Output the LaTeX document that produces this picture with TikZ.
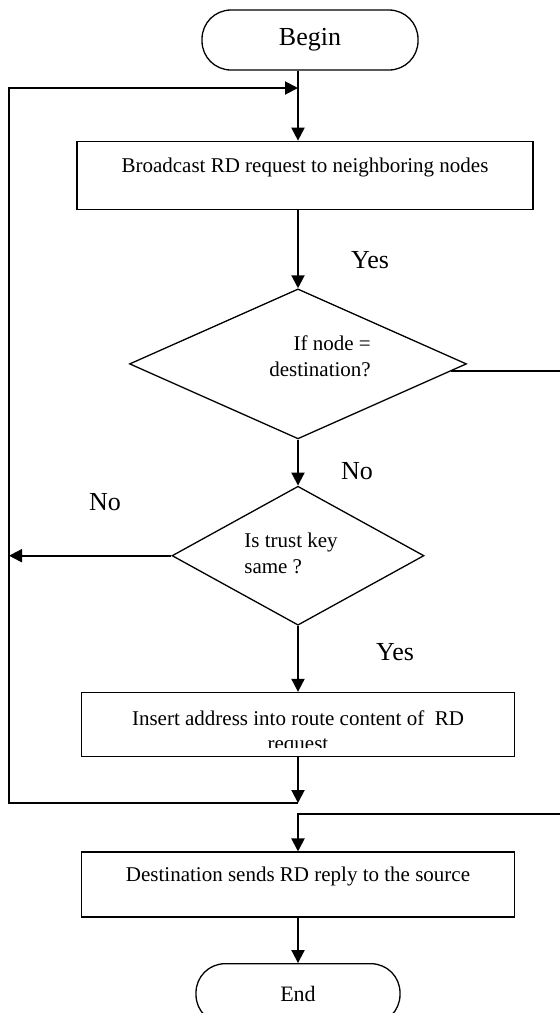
\documentclass[tikz,border=0pt]{standalone}
\usepackage{fontspec}
\setmainfont{Liberation Serif}
\usepackage{tikz}
\usetikzlibrary{arrows.meta,shapes,positioning}
\newcommand{\bigtxt}{\fontsize{26}{30}\selectfont}
\newcommand{\boxtxt}{\fontsize{21}{26}\selectfont}
\tikzstyle{terminal} = [rectangle, rounded corners=29pt, minimum width=216pt, minimum height=60pt, draw, line width=1.3pt, font=\bigtxt]
\tikzstyle{process} = [rectangle, minimum width=433pt, minimum height=65pt, draw, line width=1.6pt, font=\boxtxt, text height=14pt, text depth=20pt]
\tikzstyle{decision} = [diamond, draw, line width=1.3pt, inner sep=0pt]
\tikzstyle{dtext} = [font=\boxtxt, inner sep=0pt]
\tikzstyle{lbl} = [font=\bigtxt, inner sep=0pt]
\tikzstyle{arrow} = [line width=2pt, ->, >={Triangle[length=13pt,width=13pt]}]

\begin{document}
\begin{tikzpicture}[x=1pt, y=-1pt]
\useasboundingbox (0,0) rectangle (560,1013);
% Main flow
\node[terminal] (begin) at (310,40) {Begin};
\node[process, below=70pt of begin, xshift=-5pt, minimum width=456pt, minimum height=68pt] (bcast) {Broadcast RD request to neighboring nodes};
\node[decision, below=78pt of bcast, xshift=-7pt, minimum width=337pt, minimum height=150pt] (dec1) {};
\node[dtext, align=right] (dec1Text) at ([shift={(22pt,8pt)}]dec1.center) {If node =\\destination?};
\node[decision, below=46pt of dec1, minimum width=252pt, minimum height=139pt] (dec2) {};
\node[dtext, align=left] (dec2Text) at ([shift={(-7pt,2pt)}]dec2.center) {Is trust key\\same ?};
\node[process, below=66pt of dec2, minimum height=64pt, path picture={
    \node[font=\boxtxt, inner sep=0pt, anchor=base] (insertLineA) at ([yshift=-1pt]path picture bounding box.center) {Insert address into route content of\ \ RD};
    \node[font=\boxtxt, inner sep=0pt, anchor=base] (insertLineB) at ([yshift=-26pt]path picture bounding box.center) {request};
    \fill[white] ([yshift=9pt]path picture bounding box.south west) rectangle (path picture bounding box.south east);
  }] (insert) {};
\node[process, below=94pt of insert] (dest) {Destination sends RD reply to the source};
\node[terminal, below=45pt of dest, minimum width=204pt, font=\fontsize{22}{26}\selectfont] (end) {End};

% Labels
\node[lbl] (yes1) at (370,260) {Yes};
\node[lbl] (no1) at (357,471) {No};
\node[lbl] (no2) at (105,502) {No};
\node[lbl] (yes2) at (395,652) {Yes};

% Junctions
\coordinate (loopTop) at (dec1.north |- 0,88);
\coordinate (loopLeft) at (9,88);
\coordinate (loopBot) at (dec1.north |- 0,803);
\coordinate (joinR) at (dec1.north |- 0,814);

\draw[arrow] (begin.south -| dec1.north) -- (bcast.north -| dec1.north);
\draw[arrow] (bcast.south -| dec1.north) -- (dec1.north);
\draw[arrow] (dec1.south) -- (dec2.north);
\draw[arrow] (dec2.south) -- (insert.north);
\draw[arrow] (insert.south) -- (loopBot);
\draw[arrow] (loopBot) -| (loopLeft) -- (loopTop);
\draw[arrow] (dec2.west) -- (dec2.west -| loopLeft);
\draw[arrow] ([shift={(-16pt,-7pt)}]dec1.east) -- ++(114pt,0) |- (joinR) -- (dest.north);
\draw[arrow] (dest.south) -- (end.north);
\end{tikzpicture}
\end{document}
